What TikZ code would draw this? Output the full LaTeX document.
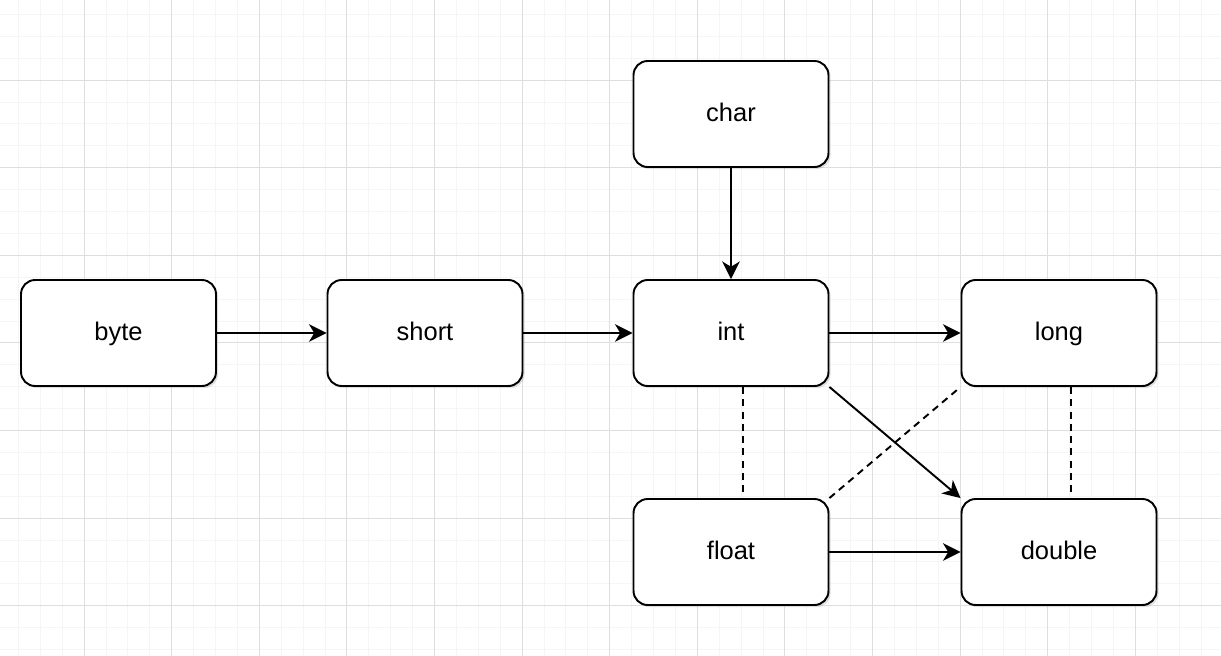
\documentclass[tikz,border=0pt]{standalone}
\usepackage{fontspec}
\setmainfont{Liberation Sans}
\usetikzlibrary{arrows.meta,shadows}

\begin{document}
\begin{tikzpicture}[
    x=0.02cm, y=-0.02cm,
    minorgrid/.style={line width=0.4pt, color=black!4},
    majorgrid/.style={line width=0.5pt, color=black!13},
    typebox/.style={draw=black, line width=1.1pt, fill=white, rounded corners=8pt,
        minimum width=3.9cm, minimum height=2.12cm, font=\fontsize{14.5}{17}\selectfont,
        text height=0.86em, text depth=0pt,
        drop shadow={opacity=0.25, shadow xshift=1.2pt, shadow yshift=-1.2pt}},
    conv/.style={line width=1.1pt, -{Stealth[length=10pt, width=10pt, inset=3pt]}},
    lossy/.style={line width=1.1pt, dash pattern=on 4pt off 3pt}
]
\useasboundingbox (0,0) rectangle (1221,656);

% Background grid
\foreach \i in {0,...,56}
    \draw[minorgrid] (-3.6+21.9*\i,0) -- (-3.6+21.9*\i,656);
\foreach \j in {0,...,31}
    \draw[minorgrid] (0,-7.6+21.9*\j) -- (1221,-7.6+21.9*\j);
\foreach \i in {0,...,14}
    \draw[majorgrid] (-3.6+87.6*\i,0) -- (-3.6+87.6*\i,656);
\foreach \j in {0,...,8}
    \draw[majorgrid] (0,-7.6+87.6*\j) -- (1221,-7.6+87.6*\j);

% Primitive types
\node[typebox] (char)   at (731,114) {char};
\node[typebox] (byte)   at (118.5,333) {byte};
\node[typebox] (short)  at (425,333)   {short};
\node[typebox] (int)    at (731,333) {int};
\node[typebox] (long)   at (1059,333) {long};
\node[typebox] (float)  at (731,552) {float};
\node[typebox] (double) at (1059,552) {double};

% Widening without loss
\draw[conv] (char) -- (int);
\draw[conv] (byte) -- (short);
\draw[conv] (short) -- (int);
\draw[conv] (int) -- (long);
\draw[conv] (float) -- (double);
\draw[conv] (int.south east) -- (double.north west);

% Widening with possible loss of precision
\draw[lossy] ([xshift=0.24cm]int.south) -- ([xshift=0.24cm]float.north);
\draw[lossy] (float.north east) -- (long.south west);
\draw[lossy] ([xshift=0.24cm]long.south) -- ([xshift=0.24cm]double.north);

\end{tikzpicture}
\end{document}
